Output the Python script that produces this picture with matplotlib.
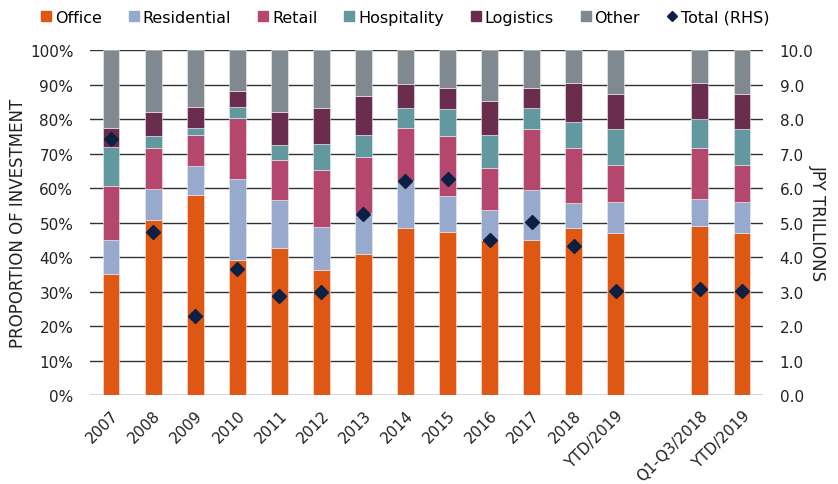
import matplotlib
matplotlib.use("Agg")
import matplotlib.pyplot as plt
import numpy as np
from matplotlib.lines import Line2D
from matplotlib.ticker import FuncFormatter

plt.rcParams['font.family'] = ['DejaVu Sans']

categories = ["2007", "2008", "2009", "2010", "2011", "2012", "2013", "2014",
              "2015", "2016", "2017", "2018", "YTD/2019", "", "Q1-Q3/2018", "YTD/2019"]

# shares (%)
office      = [35.1, 50.7, 58.1, 39.2, 42.6, 36.3, 41.0, 48.5, 47.3, 44.9, 44.8, 48.5, 47.1, 0, 49.0, 47.1]
residential = [9.8, 8.9, 8.4, 23.5, 13.8, 12.4, 11.9, 13.6, 10.4, 8.7, 14.6, 7.2, 8.8, 0, 7.8, 8.8]
retail      = [15.8, 11.9, 9.0, 17.7, 11.8, 16.6, 16.0, 15.3, 17.5, 12.3, 17.8, 16.0, 10.7, 0, 14.7, 10.7]
hospitality = [11.3, 3.7, 1.8, 3.0, 4.3, 7.6, 6.5, 5.8, 7.7, 9.5, 6.0, 7.4, 10.4, 0, 8.4, 10.4]
logistics   = [5.4, 6.7, 6.3, 4.6, 9.4, 10.3, 11.4, 6.9, 6.2, 9.7, 5.9, 11.4, 10.3, 0, 10.6, 10.3]
other       = [22.6, 18.1, 16.4, 12.0, 18.1, 16.8, 13.2, 9.9, 10.9, 14.9, 10.9, 9.5, 12.7, 0, 9.5, 12.7]
total_rhs   = [7.42, 4.73, 2.28, 3.65, 2.86, 3.00, 5.25, 6.19, 6.26, 4.49, 5.02, 4.32, 3.02, np.nan, 3.08, 3.02]

series = [("Office", office, "#DE5713"),
          ("Residential", residential, "#97AACD"),
          ("Retail", retail, "#B5466E"),
          ("Hospitality", hospitality, "#62989F"),
          ("Logistics", logistics, "#6B2D4E"),
          ("Other", other, "#808990")]

TXT = '#222222'
fig = plt.figure(figsize=(8.38, 4.85), dpi=100)
ax = fig.add_axes([0.1074, 0.1835, 0.8031, 0.7113])
x = np.arange(len(categories))
bottom = np.zeros(len(categories))
for name, vals, col in series:
    v = np.array(vals, dtype=float)
    ax.bar(x, v, 0.4, bottom=bottom, color=col, edgecolor='#eeeeee', linewidth=0.4, zorder=3)
    bottom += v

ax.set_ylim(0, 100)
ax.set_xlim(-0.5, len(categories) - 0.5)
ax.set_yticks(np.arange(0, 101, 10))
ax.yaxis.set_major_formatter(FuncFormatter(lambda v, p: f"{int(v)}%"))
ax.grid(axis='y', color='#333333', linewidth=1.0, zorder=0)
ax.set_axisbelow(True)
for s in ax.spines.values():
    s.set_visible(False)
ax.tick_params(axis='both', length=0, labelsize=11, colors=TXT)
ax.tick_params(axis='y', pad=12)
ax.set_xticks(x)
ax.set_xticklabels(categories, rotation=45, ha='right', rotation_mode='anchor')
ax.tick_params(axis='x', pad=9)
ax.set_ylabel("PROPORTION OF INVESTMENT", fontsize=12, color=TXT, labelpad=2)

ax2 = ax.twinx()
ax2.set_ylim(0, 10)
ax2.set_yticks(np.arange(0, 11, 1))
ax2.yaxis.set_major_formatter(FuncFormatter(lambda v, p: f"{v:.1f}"))
for s in ax2.spines.values():
    s.set_visible(False)
ax2.tick_params(axis='y', length=0, labelsize=11, colors=TXT, pad=12)
ax2.plot(x, total_rhs, linestyle='none', marker='D', markersize=7, color='#0E1F44', zorder=5)
ax2.set_ylabel("JPY TRILLIONS", fontsize=12, color=TXT, rotation=270, labelpad=10)

handles = [Line2D([], [], marker='s', linestyle='none', color=c, markersize=7) for _, _, c in series]
handles.append(Line2D([], [], marker='D', linestyle='none', color='#0E1F44', markersize=5.5))
labels = [n for n, _, _ in series] + ["Total (RHS)"]
fig.legend(handles, labels, loc='center', bbox_to_anchor=(0.482, 0.962), ncol=7, frameon=False,
           fontsize=11.5, handletextpad=0.05, columnspacing=1.5, handlelength=1.0)

fig.savefig("out.png", dpi=100)
